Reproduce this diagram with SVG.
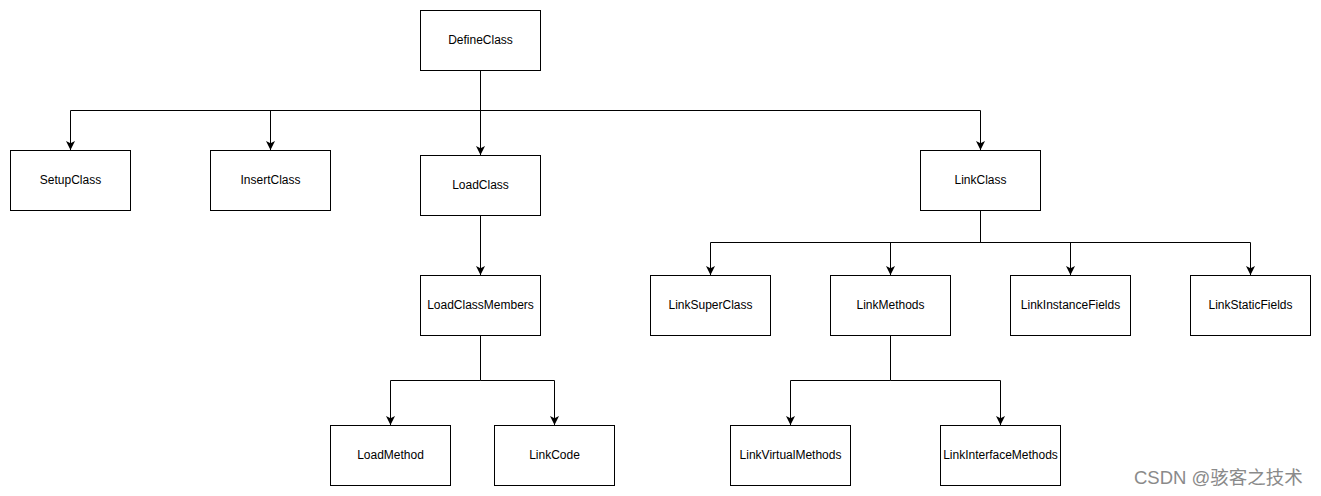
<svg xmlns="http://www.w3.org/2000/svg" width="1321" height="496" viewBox="0 0 1321 496">
<style>
.box{fill:#fff;stroke:#000;stroke-width:1}
.lbl{font-family:"Liberation Sans",Arial,sans-serif;font-size:12px;fill:#000;text-anchor:middle;dominant-baseline:central}
.edge{fill:none;stroke:#000;stroke-width:1}
.wm{font-family:"Liberation Sans","Noto Sans CJK SC",sans-serif;font-size:18.5px;fill:#8a8a8a}
</style>
<defs>
<marker id="arr" viewBox="0 0 10 10" refX="10" refY="5" markerWidth="9" markerHeight="9" markerUnits="userSpaceOnUse" orient="auto">
<path d="M0,0 L10,5 L0,10 L2.5,5 Z" fill="#000"/>
</marker>
</defs>
<rect width="1321" height="496" fill="#fff"/>
<g id="connectors">
<path class="edge" d="M480.5,70.5 V110.5 H70.5 V150" marker-end="url(#arr)"/>
<path class="edge" d="M480.5,110.5 H270.5 V150" marker-end="url(#arr)"/>
<path class="edge" d="M480.5,70.5 V155" marker-end="url(#arr)"/>
<path class="edge" d="M480.5,110.5 H980.5 V150" marker-end="url(#arr)"/>
<path class="edge" d="M480.5,215.5 V275" marker-end="url(#arr)"/>
<path class="edge" d="M480.5,335.5 V380.5 H390.5 V425" marker-end="url(#arr)"/>
<path class="edge" d="M480.5,380.5 H554.5 V425" marker-end="url(#arr)"/>
<path class="edge" d="M980.5,210.5 V242.5 H710.5 V275" marker-end="url(#arr)"/>
<path class="edge" d="M980.5,242.5 H890.5 V275" marker-end="url(#arr)"/>
<path class="edge" d="M980.5,242.5 H1070.5 V275" marker-end="url(#arr)"/>
<path class="edge" d="M980.5,242.5 H1250.5 V275" marker-end="url(#arr)"/>
<path class="edge" d="M890.5,335.5 V380.5 H790.5 V425" marker-end="url(#arr)"/>
<path class="edge" d="M890.5,380.5 H1000.5 V425" marker-end="url(#arr)"/>
</g>
<g id="DefineClass"><rect class="box" x="420.5" y="10.5" width="120" height="60"/><text class="lbl" x="480.5" y="39.5">DefineClass</text></g>
<g id="SetupClass"><rect class="box" x="10.5" y="150.5" width="120" height="60"/><text class="lbl" x="70.5" y="179.5">SetupClass</text></g>
<g id="InsertClass"><rect class="box" x="210.5" y="150.5" width="120" height="60"/><text class="lbl" x="270.5" y="179.5">InsertClass</text></g>
<g id="LoadClass"><rect class="box" x="420.5" y="155.5" width="120" height="60"/><text class="lbl" x="480.5" y="184.5">LoadClass</text></g>
<g id="LinkClass"><rect class="box" x="920.5" y="150.5" width="120" height="60"/><text class="lbl" x="980.5" y="179.5">LinkClass</text></g>
<g id="LoadClassMembers"><rect class="box" x="420.5" y="275.5" width="120" height="60"/><text class="lbl" x="480.5" y="304.5">LoadClassMembers</text></g>
<g id="LinkSuperClass"><rect class="box" x="650.5" y="275.5" width="120" height="60"/><text class="lbl" x="710.5" y="304.5">LinkSuperClass</text></g>
<g id="LinkMethods"><rect class="box" x="830.5" y="275.5" width="120" height="60"/><text class="lbl" x="890.5" y="304.5">LinkMethods</text></g>
<g id="LinkInstanceFields"><rect class="box" x="1010.5" y="275.5" width="120" height="60"/><text class="lbl" x="1070.5" y="304.5">LinkInstanceFields</text></g>
<g id="LinkStaticFields"><rect class="box" x="1190.5" y="275.5" width="120" height="60"/><text class="lbl" x="1250.5" y="304.5">LinkStaticFields</text></g>
<g id="LoadMethod"><rect class="box" x="330.5" y="425.5" width="120" height="60"/><text class="lbl" x="390.5" y="454.5">LoadMethod</text></g>
<g id="LinkCode"><rect class="box" x="494.5" y="425.5" width="120" height="60"/><text class="lbl" x="554.5" y="454.5">LinkCode</text></g>
<g id="LinkVirtualMethods"><rect class="box" x="730.5" y="425.5" width="120" height="60"/><text class="lbl" x="790.5" y="454.5">LinkVirtualMethods</text></g>
<g id="LinkInterfaceMethods"><rect class="box" x="940.5" y="425.5" width="120" height="60"/><text class="lbl" x="1000.5" y="454.5">LinkInterfaceMethods</text></g>
<text class="wm" x="1134" y="484">CSDN @骇客之技术</text>
</svg>
